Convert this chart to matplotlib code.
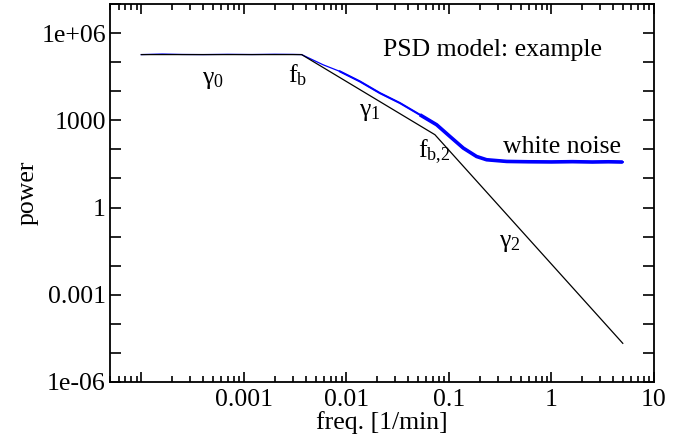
import matplotlib
matplotlib.use("Agg")
import matplotlib.pyplot as plt
import numpy as np

# ---- data ----
# black: broken power-law model (vertices)
model_freq = [1.0e-4, 0.00366, 0.073, 4.96]
model_power = [1.82e5, 1.82e5, 320.0, 2.14e-5]

psd_freq = [1.0e-4, 1.6e-4, 2.5e-4, 4.0e-4, 7.0e-4, 0.0012, 0.0020, 0.0030, 0.00366,
            0.00594, 0.00865, 0.01355, 0.0212, 0.0333, 0.0521, 0.0759, 0.1023,
            0.138, 0.186, 0.233, 0.366, 0.6, 1.0, 1.6, 2.5, 3.6, 4.96]
psd_power = [1.82e5, 1.90e5, 1.84e5, 1.82e5, 1.86e5, 1.83e5, 1.87e5, 1.85e5, 1.82e5,
             8.1e4, 4.8e4, 2.17e4, 8650, 3920, 1550, 703, 278,
             111, 57, 44, 38.5, 37.5, 37.0, 37.8, 36.8, 37.5, 36.7]

x_major = [1e-4, 1e-3, 1e-2, 1e-1, 1, 10]
x_labels = ["", "0.001", "0.01", "0.1", "1", "10"]
y_exp = list(range(-6, 8))
y_labels = {-6: "1e-06", -3: "0.001", 0: "1", 3: "1000", 6: "1e+06"}

plt.rcParams['font.family'] = ['Liberation Serif', 'DejaVu Serif']
plt.rcParams['font.size'] = 18.5

fig = plt.figure(figsize=(6.97, 4.41), dpi=100)
ax = fig.add_axes([110/697, 1-382/441, (654-110)/697, (382-4)/441])
ax.set_xscale('log')
ax.set_yscale('log')
ax.set_xlim(4.95e-5, 10)
ax.set_ylim(1e-6, 1e7)

psd_freq_a = np.array(psd_freq)
psd_power_a = np.array(psd_power)
ax.plot(psd_freq_a, psd_power_a, color='#0000ff', lw=0.9, zorder=2)
m1 = psd_freq_a >= 0.00865
ax.plot(psd_freq_a[m1], psd_power_a[m1], color='#0000ff', lw=1.5, zorder=2)
m2 = psd_freq_a >= 0.05
ax.plot(psd_freq_a[m2], psd_power_a[m2], color='#0000ff', lw=2.6, zorder=2,
        solid_capstyle='butt')
ax.plot(model_freq, model_power, color='black', lw=0.9, zorder=3)

ax.set_xticks(x_major)
ax.set_xticklabels(x_labels)
ax.set_yticks([10.0**k for k in y_exp])
ax.set_yticklabels([y_labels.get(k, "") for k in y_exp])
ax.yaxis.set_minor_locator(matplotlib.ticker.NullLocator())
ax.xaxis.set_minor_locator(matplotlib.ticker.LogLocator(base=10, subs=np.arange(2, 10), numticks=50))
ax.xaxis.set_minor_formatter(matplotlib.ticker.NullFormatter())

ax.tick_params(which='both', direction='in', top=True, right=True, width=1.2)
ax.tick_params(axis='y', which='major', length=8, pad=3)
ax.tick_params(axis='x', which='major', length=7.5, pad=5)
ax.tick_params(axis='x', which='minor', length=4)
for s in ax.spines.values():
    s.set_linewidth(1.3)

ax.set_xlabel("freq. [1/min]", labelpad=0)
ax.set_ylabel("power", labelpad=2)

fs = 18.5
ax.text(0.704, 0.878, "PSD model: example", transform=ax.transAxes,
        ha='center', va='center', fontsize=fs)
ax.text(5e-4, 2.5e4, r"$\mathregular{γ_0}$", ha='center', va='center', fontsize=fs)
ax.text(0.00337, 3.7e4, r"$\mathregular{f_b}$", ha='center', va='center', fontsize=fs)
ax.text(0.0169, 1950, r"$\mathregular{γ_1}$", ha='center', va='center', fontsize=fs)
ax.text(0.073, 83, r"$\mathregular{f_{b,\!2}}$", ha='center', va='center', fontsize=fs)
ax.text(1.26, 123, "white noise", ha='center', va='center', fontsize=fs)
ax.text(0.394, 0.062, r"$\mathregular{γ_2}$", ha='center', va='center', fontsize=fs)

fig.savefig("out.png", dpi=100)
